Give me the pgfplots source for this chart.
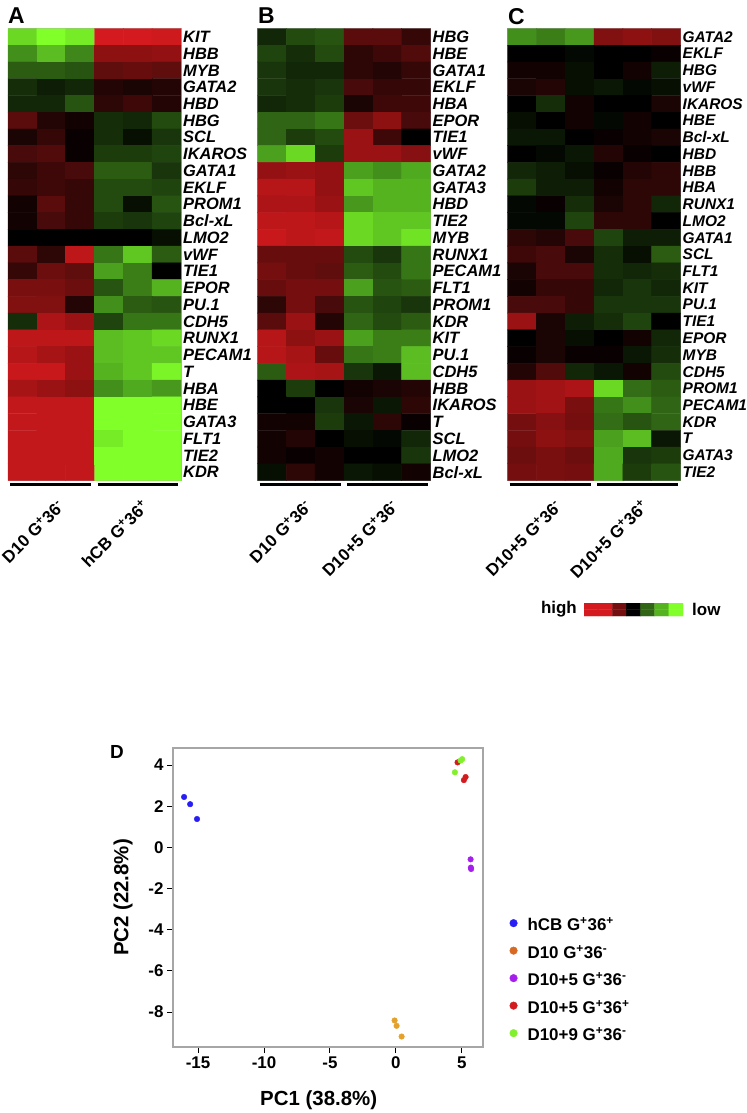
\documentclass[border=0pt]{standalone}
\usepackage{pgfplots}
\pgfplotsset{compat=1.18}
\usepackage{fontspec}
\setmainfont{Liberation Sans}

\definecolor{cbBlue}{RGB}{40,30,245}
\definecolor{dTenLeg}{RGB}{215,105,35}
\definecolor{dTenPt}{RGB}{228,162,45}
\definecolor{dFiveNeg}{RGB}{165,30,235}
\definecolor{dFivePos}{RGB}{210,28,32}
\definecolor{dNine}{RGB}{130,240,45}

\newcommand{\gp}{\textsuperscript{+}}
\newcommand{\gm}{\textsuperscript{-}}
\newcommand{\lbl}{\fontsize{17}{17}\selectfont\bfseries}

\pgfplotsset{
  colormap={rg}{rgb255(0cm)=(128,255,40) rgb255(1cm)=(75,160,30) rgb255(2cm)=(35,75,15) rgb255(3cm)=(0,0,0) rgb255(4cm)=(90,12,12) rgb255(5cm)=(155,18,20) rgb255(6cm)=(212,26,30)},
  heat/.style={
    anchor=north west, scale only axis, width=173bp, height=452bp,
    xmin=-0.5, xmax=5.5, ymin=-0.5, ymax=26.5, y dir=reverse,
    axis line style={draw=black!30, line width=0.8bp},
    xtick=\empty, ytick={0,...,26}, yticklabel pos=right,
    major tick length=0pt,
    yticklabel style={font=\fontsize{16.5}{16.5}\selectfont\bfseries\itshape, inner xsep=2bp},
    colormap name=rg, point meta min=-3, point meta max=3,
    clip=false,
  },
  cells/.style={matrix plot*, mesh/cols=6, point meta=explicit},
  legdot/.style={legend image code/.code={\path[draw=none, fill=none] (0bp,-4.5bp) -- (16bp,-4.5bp); \fill[#1] (4bp,-4.5bp) circle (3.8bp);}},
}

\begin{document}
\begin{tikzpicture}
\path[use as bounding box] (0,0) rectangle (747bp,-1113bp);

% panel letters
\node[anchor=north west, inner sep=0pt, font=\fontsize{23}{23}\selectfont\bfseries] at (8bp,-8bp) {A};
\node[anchor=north west, inner sep=0pt, font=\fontsize{23}{23}\selectfont\bfseries] at (258bp,-8bp) {B};
\node[anchor=north west, inner sep=0pt, font=\fontsize{23}{23}\selectfont\bfseries] at (508bp,-8bp) {C};

% ---------------- A ----------------
\begin{axis}[heat, at={(8bp,-28.5bp)},
  yticklabels={KIT,HBB,MYB,GATA2,HBD,HBG,SCL,IKAROS,GATA1,EKLF,PROM1,Bcl-xL,LMO2,vWF,TIE1,EPOR,PU.1,CDH5,RUNX1,PECAM1,T,HBA,HBE,GATA3,FLT1,TIE2,KDR}]
\addplot[cells] coordinates {
(0,0)[-2.6] (1,0)[-3] (2,0)[-2.8] (3,0)[3] (4,0)[3] (5,0)[2.9]
(0,1)[-1.8] (1,1)[-2.3] (2,1)[-1.7] (3,1)[1.8] (4,1)[1.8] (5,1)[1.9]
(0,2)[-1.2] (1,2)[-1.2] (2,2)[-1.1] (3,2)[1.1] (4,2)[1.2] (5,2)[1.1]
(0,3)[-0.6] (1,3)[-0.4] (2,3)[-0.5] (3,3)[0.4] (4,3)[0.3] (5,3)[0.4]
(0,4)[-0.5] (1,4)[-0.5] (2,4)[-1.1] (3,4)[0.5] (4,4)[0.7] (5,4)[0.4]
(0,5)[1.0] (1,5)[0.4] (2,5)[0.2] (3,5)[-0.6] (4,5)[-0.5] (5,5)[-1.0]
(0,6)[0.3] (1,6)[0.6] (2,6)[0.1] (3,6)[-0.6] (4,6)[-0.2] (5,6)[-0.7]
(0,7)[0.8] (1,7)[0.9] (2,7)[0.1] (3,7)[-0.8] (4,7)[-0.8] (5,7)[-0.9]
(0,8)[0.5] (1,8)[0.7] (2,8)[0.8] (3,8)[-1.2] (4,8)[-1.2] (5,8)[-0.7]
(0,9)[0.6] (1,9)[0.7] (2,9)[0.6] (3,9)[-1.0] (4,9)[-1.0] (5,9)[-0.9]
(0,10)[0.2] (1,10)[1.0] (2,10)[0.6] (3,10)[-1.0] (4,10)[-0.2] (5,10)[-1.1]
(0,11)[0.2] (1,11)[0.8] (2,11)[0.6] (3,11)[-0.8] (4,11)[-0.7] (5,11)[-0.9]
(0,12)[0] (1,12)[0] (2,12)[0] (3,12)[0] (4,12)[0] (5,12)[-0.2]
(0,13)[1.0] (1,13)[0.5] (2,13)[2.6] (3,13)[-1.5] (4,13)[-2.4] (5,13)[-1.2]
(0,14)[0.6] (1,14)[1.3] (2,14)[1.1] (3,14)[-2.0] (4,14)[-1.6] (5,14)[0]
(0,15)[1.5] (1,15)[1.5] (2,15)[1.3] (3,15)[-1.1] (4,15)[-1.6] (5,15)[-2.2]
(0,16)[1.6] (1,16)[1.6] (2,16)[0.4] (3,16)[-1.8] (4,16)[-1.2] (5,16)[-1.1]
(0,17)[-0.6] (1,17)[2.3] (2,17)[2.0] (3,17)[-0.9] (4,17)[-1.5] (5,17)[-1.5]
(0,18)[2.6] (1,18)[2.6] (2,18)[2.6] (3,18)[-2.3] (4,18)[-2.4] (5,18)[-2.6]
(0,19)[2.5] (1,19)[2.2] (2,19)[2.0] (3,19)[-2.3] (4,19)[-2.4] (5,19)[-2.4]
(0,20)[2.8] (1,20)[2.8] (2,20)[2.0] (3,20)[-2.2] (4,20)[-2.4] (5,20)[-2.9]
(0,21)[2.2] (1,21)[2.0] (2,21)[1.8] (3,21)[-1.8] (4,21)[-2.1] (5,21)[-1.9]
(0,22)[2.7] (1,22)[2.7] (2,22)[2.7] (3,22)[-3] (4,22)[-3] (5,22)[-3]
(0,23)[2.7] (1,23)[2.7] (2,23)[2.7] (3,23)[-3] (4,23)[-3] (5,23)[-3]
(0,24)[2.7] (1,24)[2.7] (2,24)[2.7] (3,24)[-2.8] (4,24)[-3] (5,24)[-3]
(0,25)[2.7] (1,25)[2.7] (2,25)[2.7] (3,25)[-3] (4,25)[-3] (5,25)[-3]
(0,26)[2.7] (1,26)[2.7] (2,26)[2.7] (3,26)[-3] (4,26)[-3] (5,26)[-3]
};
\draw[line width=3bp] (axis cs:-0.43,26.75) -- (axis cs:2.38,26.75);
\draw[line width=3bp] (axis cs:2.62,26.75) -- (axis cs:5.4,26.75);
\node[rotate=45, anchor=north east, inner sep=0pt, font=\lbl] at (axis cs:1.17,27.55) {D10 G\gp36\gm};
\node[rotate=45, anchor=north east, inner sep=0pt, font=\lbl] at (axis cs:4.1,27.55) {hCB G\gp36\gp};
\end{axis}

% ---------------- B ----------------
\begin{axis}[heat, at={(257.5bp,-28.5bp)},
  yticklabels={HBG,HBE,GATA1,EKLF,HBA,EPOR,TIE1,vWF,GATA2,GATA3,HBD,TIE2,MYB,RUNX1,PECAM1,FLT1,PROM1,KDR,KIT,PU.1,CDH5,HBB,IKAROS,T,SCL,LMO2,Bcl-xL}]
\addplot[cells] coordinates {
(0,0)[-0.5] (1,0)[-1.0] (2,0)[-1.1] (3,0)[1.0] (4,0)[1.0] (5,0)[0.6]
(0,1)[-0.9] (1,1)[-0.6] (2,1)[-1.0] (3,1)[0.5] (4,1)[0.7] (5,1)[0.9]
(0,2)[-0.7] (1,2)[-0.5] (2,2)[-0.5] (3,2)[0.5] (4,2)[0.4] (5,2)[0.6]
(0,3)[-0.7] (1,3)[-0.6] (2,3)[-0.7] (3,3)[0.8] (4,3)[0.6] (5,3)[0.6]
(0,4)[-0.5] (1,4)[-0.6] (2,4)[-0.8] (3,4)[0.3] (4,4)[0.7] (5,4)[0.7]
(0,5)[-1.3] (1,5)[-1.3] (2,5)[-1.5] (3,5)[1.3] (4,5)[1.8] (5,5)[0.8]
(0,6)[-1.3] (1,6)[-0.8] (2,6)[-1.0] (3,6)[2.0] (4,6)[0.7] (5,6)[0]
(0,7)[-2.0] (1,7)[-2.6] (2,7)[-0.8] (3,7)[2.0] (4,7)[2.0] (5,7)[1.7]
(0,8)[1.9] (1,8)[2.0] (2,8)[1.9] (3,8)[-2.0] (4,8)[-1.8] (5,8)[-2.1]
(0,9)[2.5] (1,9)[2.5] (2,9)[1.9] (3,9)[-2.4] (4,9)[-2.2] (5,9)[-2.2]
(0,10)[2.3] (1,10)[2.3] (2,10)[2.0] (3,10)[-1.9] (4,10)[-2.2] (5,10)[-2.2]
(0,11)[2.6] (1,11)[2.6] (2,11)[2.5] (3,11)[-2.6] (4,11)[-2.4] (5,11)[-2.4]
(0,12)[2.8] (1,12)[2.6] (2,12)[2.7] (3,12)[-2.6] (4,12)[-2.4] (5,12)[-2.7]
(0,13)[1.2] (1,13)[1.2] (2,13)[1.2] (3,13)[-1.0] (4,13)[-0.7] (5,13)[-1.5]
(0,14)[1.4] (1,14)[1.2] (2,14)[1.1] (3,14)[-1.2] (4,14)[-1.0] (5,14)[-1.5]
(0,15)[1.2] (1,15)[1.4] (2,15)[1.4] (3,15)[-2.0] (4,15)[-1.1] (5,15)[-1.2]
(0,16)[0.5] (1,16)[1.4] (2,16)[0.8] (3,16)[-1.1] (4,16)[-0.9] (5,16)[-0.7]
(0,17)[1.0] (1,17)[2.0] (2,17)[0.4] (3,17)[-1.3] (4,17)[-1.0] (5,17)[-1.2]
(0,18)[2.5] (1,18)[1.8] (2,18)[2.0] (3,18)[-2.0] (4,18)[-1.6] (5,18)[-1.6]
(0,19)[2.5] (1,19)[2.2] (2,19)[1.2] (3,19)[-1.5] (4,19)[-1.6] (5,19)[-2.3]
(0,20)[-1.2] (1,20)[2.3] (2,20)[2.2] (3,20)[-0.7] (4,20)[-0.3] (5,20)[-2.3]
(0,21)[0] (1,21)[-0.8] (2,21)[0] (3,21)[0.2] (4,21)[0.3] (5,21)[0.4]
(0,22)[0] (1,22)[0] (2,22)[-0.7] (3,22)[0.3] (4,22)[-0.3] (5,22)[0.5]
(0,23)[0.2] (1,23)[0.2] (2,23)[-0.8] (3,23)[-0.3] (4,23)[0.5] (5,23)[0.1]
(0,24)[0.2] (1,24)[0.4] (2,24)[0] (3,24)[-0.2] (4,24)[-0.1] (5,24)[-0.5]
(0,25)[0.2] (1,25)[0.1] (2,25)[0.2] (3,25)[0] (4,25)[0] (5,25)[-0.7]
(0,26)[-0.2] (1,26)[0.5] (2,26)[0.2] (3,26)[-0.3] (4,26)[-0.2] (5,26)[0.2]
};
\draw[line width=3bp] (axis cs:-0.43,26.75) -- (axis cs:2.38,26.75);
\draw[line width=3bp] (axis cs:2.62,26.75) -- (axis cs:5.4,26.75);
\node[rotate=45, anchor=north east, inner sep=0pt, font=\lbl] at (axis cs:1.1,27.55) {D10 G\gp36\gm};
\node[rotate=45, anchor=north east, inner sep=0pt, font=\lbl] at (axis cs:4.1,27.55) {D10+5 G\gp36\gm};
\end{axis}

% ---------------- C ----------------
\begin{axis}[heat, at={(507.5bp,-28.5bp)},
  yticklabel style={font=\fontsize{15.5}{15.5}\selectfont\bfseries\itshape},
  yticklabels={GATA2,EKLF,HBG,vWF,IKAROS,HBE,Bcl-xL,HBD,HBB,HBA,RUNX1,LMO2,GATA1,SCL,FLT1,KIT,PU.1,TIE1,EPOR,MYB,CDH5,PROM1,PECAM1,KDR,T,GATA3,TIE2}]
\addplot[cells] coordinates {
(0,0)[-1.8] (1,0)[-1.6] (2,0)[-1.9] (3,0)[1.6] (4,0)[1.8] (5,0)[1.6]
(0,1)[0] (1,1)[0] (2,1)[-0.1] (3,1)[0] (4,1)[0] (5,1)[0.1]
(0,2)[0.2] (1,2)[0.2] (2,2)[-0.2] (3,2)[0] (4,2)[0.2] (5,2)[-0.4]
(0,3)[0.3] (1,3)[0.4] (2,3)[-0.2] (3,3)[-0.3] (4,3)[-0.1] (5,3)[-0.2]
(0,4)[0] (1,4)[-0.6] (2,4)[0.2] (3,4)[0] (4,4)[0] (5,4)[0.3]
(0,5)[-0.2] (1,5)[0] (2,5)[0.2] (3,5)[-0.1] (4,5)[0.2] (5,5)[0]
(0,6)[-0.3] (1,6)[-0.3] (2,6)[0] (3,6)[0.1] (4,6)[0.2] (5,6)[0.3]
(0,7)[0] (1,7)[-0.1] (2,7)[-0.3] (3,7)[0.4] (4,7)[0.1] (5,7)[0]
(0,8)[-0.5] (1,8)[-0.4] (2,8)[-0.2] (3,8)[0.1] (4,8)[0.4] (5,8)[0.5]
(0,9)[-0.8] (1,9)[-0.4] (2,9)[-0.4] (3,9)[0.2] (4,9)[0.5] (5,9)[0.5]
(0,10)[-0.1] (1,10)[0.1] (2,10)[-0.6] (3,10)[0.3] (4,10)[0.5] (5,10)[-0.5]
(0,11)[-0.1] (1,11)[-0.1] (2,11)[-0.9] (3,11)[0.5] (4,11)[0.5] (5,11)[0]
(0,12)[0.5] (1,12)[0.4] (2,12)[0.8] (3,12)[-0.9] (4,12)[-0.4] (5,12)[-0.4]
(0,13)[0.7] (1,13)[0.8] (2,13)[0.3] (3,13)[-0.6] (4,13)[-0.2] (5,13)[-1.2]
(0,14)[0.3] (1,14)[0.8] (2,14)[0.8] (3,14)[-0.6] (4,14)[-0.5] (5,14)[-0.6]
(0,15)[0.2] (1,15)[0.6] (2,15)[0.6] (3,15)[-0.5] (4,15)[-0.7] (5,15)[-0.5]
(0,16)[0.8] (1,16)[0.8] (2,16)[0.6] (3,16)[-0.7] (4,16)[-0.7] (5,16)[-0.7]
(0,17)[2.0] (1,17)[0.3] (2,17)[-0.4] (3,17)[-0.6] (4,17)[-0.9] (5,17)[0]
(0,18)[0] (1,18)[0.3] (2,18)[-0.2] (3,18)[0] (4,18)[0.2] (5,18)[-0.5]
(0,19)[0.1] (1,19)[0.3] (2,19)[0.1] (3,19)[0.1] (4,19)[-0.3] (5,19)[-0.6]
(0,20)[0.4] (1,20)[0.9] (2,20)[-0.5] (3,20)[-0.3] (4,20)[0.2] (5,20)[-1.0]
(0,21)[2.0] (1,21)[2.1] (2,21)[2.3] (3,21)[-2.6] (4,21)[-1.4] (5,21)[-1.2]
(0,22)[2.0] (1,22)[2.1] (2,22)[1.5] (3,22)[-1.5] (4,22)[-1.8] (5,22)[-1.3]
(0,23)[1.4] (1,23)[1.7] (2,23)[1.4] (3,23)[-1.4] (4,23)[-1.1] (5,23)[-1.3]
(0,24)[1.4] (1,24)[1.8] (2,24)[1.6] (3,24)[-2.0] (4,24)[-2.3] (5,24)[-0.3]
(0,25)[1.3] (1,25)[1.5] (2,25)[1.3] (3,25)[-2.1] (4,25)[-0.7] (5,25)[-0.8]
(0,26)[1.4] (1,26)[1.5] (2,26)[1.4] (3,26)[-2.1] (4,26)[-0.8] (5,26)[-1.1]
};
\draw[line width=3bp] (axis cs:-0.43,26.75) -- (axis cs:2.38,26.75);
\draw[line width=3bp] (axis cs:2.62,26.75) -- (axis cs:5.4,26.75);
\node[rotate=45, anchor=north east, inner sep=0pt, font=\lbl] at (axis cs:1.1,27.55) {D10+5 G\gp36\gm};
\node[rotate=45, anchor=north east, inner sep=0pt, font=\lbl] at (axis cs:4.1,27.55) {D10+5 G\gp36\gp};
\end{axis}

% ---------------- colour key ----------------
\begin{axis}[at={(584bp,-603bp)}, anchor=north west, scale only axis,
  width=99bp, height=13bp, hide axis,
  xmin=-0.5, xmax=6.5, ymin=-0.5, ymax=1.5,
  colormap name=rg, point meta min=-3, point meta max=3]
\addplot[matrix plot*, mesh/cols=7, point meta=explicit] coordinates {
(0,0)[3] (1,0)[3] (2,0)[1.4] (3,0)[0] (4,0)[-1.3] (5,0)[-2.2] (6,0)[-3]
(0,1)[3] (1,1)[3] (2,1)[1.4] (3,1)[0] (4,1)[-1.3] (5,1)[-2.2] (6,1)[-3]
};
\end{axis}
\node[anchor=east, inner sep=0pt, font=\fontsize{17}{17}\selectfont\bfseries] at (577bp,-609.5bp) {high};
\node[anchor=west, inner sep=0pt, font=\fontsize{17}{17}\selectfont\bfseries] at (692bp,-609.5bp) {low};

% ---------------- D: PCA ----------------
\node[anchor=north west, inner sep=0pt, font=\fontsize{19}{19}\selectfont\bfseries] at (110bp,-745bp) {D};
\begin{axis}[at={(173bp,-748bp)}, anchor=north west, scale only axis,
  width=310bp, height=299bp,
  xmin=-16.9, xmax=6.6, ymin=-9.7, ymax=4.83,
  xtick={-15,-10,-5,0,5}, xticklabels={-15,-10,-5,0,5},
  ytick={-8,-6,-4,-2,0,2,4}, yticklabels={-8,-6,-4,-2,0,2,4},
  tick pos=left, tick align=outside, major tick length=6bp,
  tick style={black, line width=1bp},
  axis line style={draw=black!35, line width=1.2bp},
  ticklabel style={font=\fontsize{17}{17}\selectfont\bfseries},
  xlabel={PC1 (38.8\%)}, ylabel={PC2 (22.8\%)},
  label style={font=\fontsize{20.5}{20.5}\selectfont\bfseries},
  xlabel style={at={(axis description cs:0.47,-0.177)}, anchor=center},
  ylabel style={at={(axis description cs:-0.161,0.5)}, anchor=center},
  legend cell align=left,
  legend style={draw=none, fill=none, at={(1.085,0.43)}, anchor=north west,
    font=\fontsize{17}{17}\selectfont\bfseries, row sep=12.3bp,
    inner sep=0pt,
    nodes={inner ysep=0pt, text height=12bp, text depth=3bp}},
  clip=false]
\addlegendimage{legdot=cbBlue}
\addlegendentry{hCB G\gp36\gp}
\addlegendimage{legdot=dTenLeg}
\addlegendentry{D10 G\gp36\gm}
\addlegendimage{legdot=dFiveNeg}
\addlegendentry{D10+5 G\gp36\gm}
\addlegendimage{legdot=dFivePos}
\addlegendentry{D10+5 G\gp36\gp}
\addlegendimage{legdot=dNine}
\addlegendentry{D10+9 G\gp36\gm}

\addplot[only marks, mark=*, mark size=2.8bp, color=cbBlue, forget plot] coordinates {(-16.06,2.45) (-15.6,2.1) (-15.08,1.38)};
\addplot[only marks, mark=*, mark size=2.8bp, color=dTenPt, forget plot] coordinates {(-0.10,-8.41) (0.05,-8.67) (0.43,-9.19)};
\addplot[only marks, mark=*, mark size=2.8bp, color=dFiveNeg, forget plot] coordinates {(5.66,-0.58) (5.68,-0.98) (5.70,-1.05)};
\addplot[only marks, mark=*, mark size=2.8bp, color=dFivePos, forget plot] coordinates {(4.67,4.13) (5.28,3.42) (5.15,3.27)};
\addplot[only marks, mark=*, mark size=2.8bp, color=dNine, forget plot] coordinates {(5.02,4.29) (4.90,4.22) (4.47,3.65)};
\end{axis}
\end{tikzpicture}
\end{document}
